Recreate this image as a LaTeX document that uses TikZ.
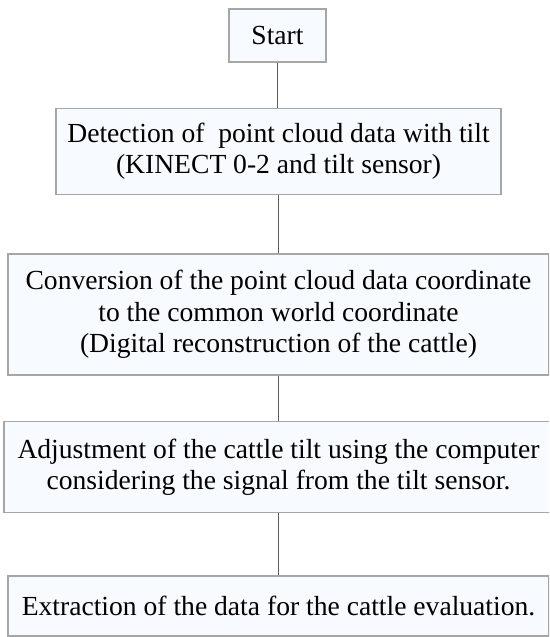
\documentclass[tikz,border=0pt]{standalone}
\usepackage{fontspec}
\setmainfont{Liberation Serif}
\usepackage{xcolor}
\usepackage{tikz}
\definecolor{boxfill}{HTML}{F7FAFF}
\definecolor{boxline}{HTML}{A6A6A6}
\definecolor{linkline}{HTML}{5A5A5A}
\tikzset{
stepnodev1/.style={rectangle, draw=boxline,fill=boxfill,line width=1.2pt, inner sep=0pt, align=center, font=\fontsize{27.6}{31.6}\selectfont},
linkv1/.style={draw=linkline,line width=1.3pt},
}
\begin{document}
\begin{tikzpicture}[x=1pt,y=-1pt]
    \clip (0,0) rectangle (549,637);
    \node[stepnodev1, minimum width=97pt, minimum height=53pt] at (277.5,35.5) (start) {Start};
    \node[stepnodev1, minimum width=445pt, minimum height=86pt] at (278.5,151.2) (detect) {Detection of~ point cloud data with tilt\\(KINECT 0-2 and tilt sensor)};
    \node[stepnodev1, minimum width=541pt, minimum height=121pt] at (278.5,314.5) (convert) {Conversion of the point cloud data coordinate\\to the common world coordinate\\(Digital reconstruction of the cattle)};
    \node[stepnodev1, minimum width=549pt, minimum height=91pt] at (278.5,467.3) (adjust) {Adjustment of the cattle tilt using the computer\\considering the signal from the tilt sensor.};
    \node[stepnodev1, minimum width=541pt, minimum height=60pt] at (278.5,606) (extract) {Extraction of the data for the cattle evaluation.};
     \draw[linkv1] (start.south) -- (start.south |- detect.north);
     \draw[linkv1] (detect.south) -- (detect.south |- convert.north);
     \draw[linkv1] (convert.south) -- (convert.south |- adjust.north);
     \draw[linkv1] (adjust.south) -- (adjust.south |- extract.north);
\end{tikzpicture}
\end{document}
